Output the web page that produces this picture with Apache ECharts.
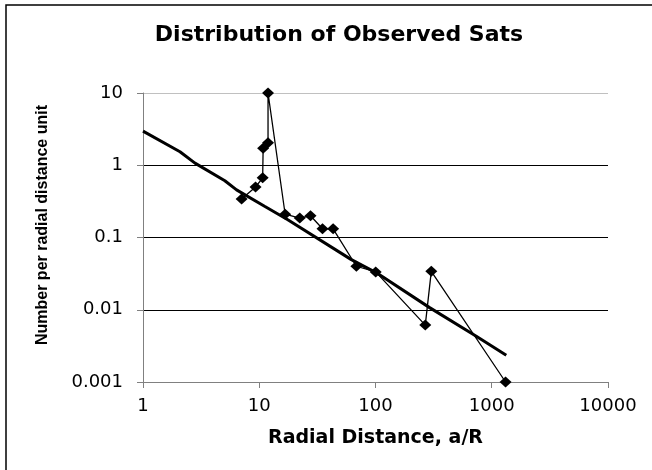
<!DOCTYPE html>
<html>
<head>
<meta charset="utf-8">
<script src="https://cdn.jsdelivr.net/npm/echarts@6/dist/echarts.min.js"></script>
<style>
  html, body { margin: 0; padding: 0; background: #fff; }
  #chart { width: 652px; height: 470px; }
</style>
</head>
<body>
<div id="chart"></div>
<script>
// observed satellites: radial distance (a/R) vs number per radial distance unit
const radialDist = [7.05, 9.29, 10.7, 10.8, 11.9, 11.9, 16.7, 22.3, 27.6, 35, 43.2, 68.5, 100.4, 268, 302, 1315];
const numPerUnit = [0.34, 0.50, 0.67, 1.72, 2.05, 10, 0.21, 0.186, 0.20, 0.132, 0.132, 0.040, 0.0334, 0.00613, 0.034, 0.001];

// power-law trendline
const trendX = [1, 2.08, 2.8, 5.06, 6.38, 11.2, 17.6, 62, 102, 292, 736, 1333];
const trendY = [2.97, 1.54, 1.07, 0.61, 0.456, 0.268, 0.176, 0.0494, 0.0324, 0.0107, 0.0043, 0.00234];

const xTicks = [1, 10, 100, 1000, 10000];
const yTicks = [0.001, 0.01, 0.1, 1, 10];

const chart = echarts.init(document.getElementById('chart'), null, { renderer: 'canvas' });

const fmt = v => String(Number(Number(v).toPrecision(3)));

const option = {
  backgroundColor: '#fff',
  animation: false,
  title: {
    text: 'Distribution of Observed Sats',
    left: 334,
    top: 19,
    textAlign: 'center',
    textStyle: {
      fontFamily: 'DejaVu Sans',
      fontWeight: 'bold',
      fontSize: 22,
      color: '#000'
    }
  },
  graphic: [
    {
      type: 'rect',
      shape: { x: 6, y: 5, width: 700, height: 500 },
      style: { fill: 'none', stroke: '#000', lineWidth: 1.5 },
      silent: true
    }
  ],
  grid: { left: 143, right: 44, top: 93, bottom: 88 },
  xAxis: {
    type: 'log',
    logBase: 10,
    min: xTicks[0],
    max: xTicks[xTicks.length - 1],
    name: 'Radial Distance, a/R',
    nameLocation: 'middle',
    nameGap: 47,
    nameTextStyle: {
      fontFamily: 'DejaVu Sans',
      fontWeight: 'bold',
      fontSize: 19,
      color: '#000'
    },
    axisLine: { show: true, lineStyle: { color: '#808080', width: 1 } },
    axisTick: { show: true, length: 6, lineStyle: { color: '#808080' } },
    minorTick: { show: false },
    axisLabel: {
      margin: 15,
      fontFamily: 'DejaVu Sans',
      fontSize: 18,
      color: '#000',
      formatter: fmt
    },
    splitLine: { show: false }
  },
  yAxis: {
    type: 'log',
    logBase: 10,
    min: yTicks[0],
    max: yTicks[yTicks.length - 1],
    name: 'Number per radial distance unit',
    nameLocation: 'middle',
    nameGap: 92,
    nameRotate: 90,
    nameTextStyle: {
      fontFamily: 'Liberation Sans',
      fontWeight: 'bold',
      fontSize: 16,
      color: '#000',
      padding: [0, 0, 0, 25]
    },
    axisLine: { show: true, lineStyle: { color: '#808080', width: 1 } },
    axisTick: { show: true, length: 6, lineStyle: { color: '#808080' } },
    axisLabel: {
      margin: 20,
      fontFamily: 'DejaVu Sans',
      fontSize: 18,
      color: '#000',
      formatter: fmt
    },
    splitLine: {
      show: true,
      lineStyle: { color: ['#808080', '#000', '#000', '#000', '#c0c0c0'], width: 1 }
    }
  },
  series: [
    {
      name: 'Observed',
      type: 'line',
      data: radialDist.map((x, i) => [x, numPerUnit[i]]),
      symbol: 'diamond',
      symbolSize: [12, 11],
      showSymbol: true,
      itemStyle: { color: '#000' },
      lineStyle: { color: '#000', width: 1.3 },
      z: 3
    },
    {
      name: 'Trend',
      type: 'line',
      data: trendX.map((x, i) => [x, trendY[i]]),
      showSymbol: false,
      symbol: 'none',
      lineStyle: { color: '#000', width: 3 },
      z: 2
    }
  ]
};

chart.setOption(option);
</script>
</body>
</html>
